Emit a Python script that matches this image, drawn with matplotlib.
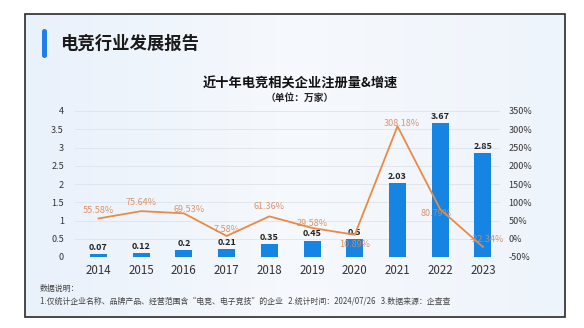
import matplotlib.pyplot as plt
from matplotlib.patches import FancyBboxPatch, Rectangle
from matplotlib.colors import LinearSegmentedColormap
import numpy as np

plt.rcParams["font.family"] = ["Noto Sans CJK SC", "DejaVu Sans"]
plt.rcParams["axes.unicode_minus"] = False

# 电竞相关企业注册量（万家）与同比增速（%）
years = ["2014", "2015", "2016", "2017", "2018", "2019", "2020", "2021", "2022", "2023"]
registrations = [0.07, 0.12, 0.2, 0.21, 0.35, 0.45, 0.5, 2.03, 3.67, 2.85]
growth = [55.58, 75.64, 69.53, 7.58, 61.36, 29.58, 10.89, 308.18, 80.79, -22.34]
growth_labels = ["55.58%", "75.64%", "69.53%", "7.58%", "61.36%", "29.58%",
                 "10.89%", "308.18%", "80.79%", "-22.34%"]

left_ticks = [0, 0.5, 1, 1.5, 2, 2.5, 3, 3.5, 4]
left_tick_labels = ["0", "0.5", "1", "1.5", "2", "2.5", "3", "3.5", "4"]
right_ticks = [-50, 0, 50, 100, 150, 200, 250, 300, 350]

BAR_COLOR = "#1684e3"
LINE_COLOR = "#ea8a45"
LABEL_COLOR = "#d9895a"
TEXT_COLOR = "#333333"

fig = plt.figure(figsize=(5.84, 3.28), dpi=100)
fig.patch.set_facecolor("white")

# 卡片背景：浅蓝渐变 + 深色边框
bg = fig.add_axes([0, 0, 1, 1])
bg.set_xlim(0, 584)
bg.set_ylim(328, 0)
bg.axis("off")
grad = np.linspace(0, 1, 256).reshape(1, -1)
card_cmap = LinearSegmentedColormap.from_list("card", ["#e9f1fb", "#f6f9fd", "#eef4fb"])
bg.imshow(grad, extent=[25, 565, 317, 14], cmap=card_cmap, aspect="auto", zorder=0)
bg.add_patch(Rectangle((25, 14), 540, 303, fill=False, edgecolor="#2a2a2a", linewidth=1.2, zorder=1))
bg.add_patch(FancyBboxPatch((42, 29), 5, 29, boxstyle="round,pad=0,rounding_size=2.5",
                            facecolor="#1f7fe8", edgecolor="none", zorder=2))
bg.text(60, 43.5, "电竞行业发展报告", fontsize=12.5, fontweight="bold", color="#1a1a1a",
        va="center", ha="left")
bg.text(300, 84, "近十年电竞相关企业注册量&增速", fontsize=9.5, fontweight="bold",
        color="#111111", ha="center", va="center")
bg.text(300, 97.5, "（单位：万家）", fontsize=7, fontweight="bold",
        color="#222222", ha="center", va="center")
bg.text(40, 288, "数据说明：", fontsize=5.7, color="#444444", ha="left", va="center")
bg.text(40, 301, "1.仅统计企业名称、品牌产品、经营范围含“电竞、电子竞技”的企业   2.统计时间：2024/07/26   3.数据来源：企查查",
        fontsize=5.7, color="#444444", ha="left", va="center")

# 主图：柱状图（左轴）+ 折线（右轴）
ax = fig.add_axes([75 / 584, 1 - 257 / 328, (500 - 75) / 584, (257 - 111) / 328])
ax.patch.set_alpha(0)
x = np.arange(len(years))
ax.bar(x, registrations, width=0.4, color=BAR_COLOR, zorder=2)
for xi, v in zip(x, registrations):
    ax.annotate(f"{v:g}", (xi, v), xytext=(0, 1.5), textcoords="offset points",
                ha="center", va="bottom", fontsize=6.5, fontweight="bold", color="#222222", zorder=5)
ax.set_ylim(0, 4)
ax.set_xlim(-0.55, 9.4)
ax.set_yticks(left_ticks)
ax.set_yticklabels(left_tick_labels)
ax.set_xticks(x)
ax.set_xticklabels(years)
ax.tick_params(axis="y", length=0, labelsize=6.5, labelcolor=TEXT_COLOR, pad=8)
ax.tick_params(axis="x", length=0, labelsize=8.3, labelcolor=TEXT_COLOR, pad=5)
ax.grid(axis="y", color="#dde3ea", linewidth=0.6, zorder=0)
for s in ax.spines.values():
    s.set_visible(False)

ax2 = ax.twinx()
ax2.plot(x, growth, color=LINE_COLOR, linewidth=1.3, zorder=3)
ax2.set_ylim(-50, 350)
ax2.set_yticks(right_ticks)
ax2.set_yticklabels([f"{t}%" for t in right_ticks])
ax2.tick_params(axis="y", length=0, labelsize=6.5, labelcolor=TEXT_COLOR, pad=6)
for s in ax2.spines.values():
    s.set_visible(False)

# 增速标签偏移（单位：点）
label_offsets = [(0, 6), (0, 6), (4, 3), (0, 5), (0, 7), (0, 3),
                 (0, -7), (3, 2), (-3, -3), (3, 5)]
for xi, g, lab, off in zip(x, growth, growth_labels, label_offsets):
    ax2.annotate(lab, (xi, g), xytext=off, textcoords="offset points",
                 ha="center", va="center", fontsize=6.5, color=LABEL_COLOR, alpha=0.9, zorder=6)

fig.savefig("out.png", dpi=100)
